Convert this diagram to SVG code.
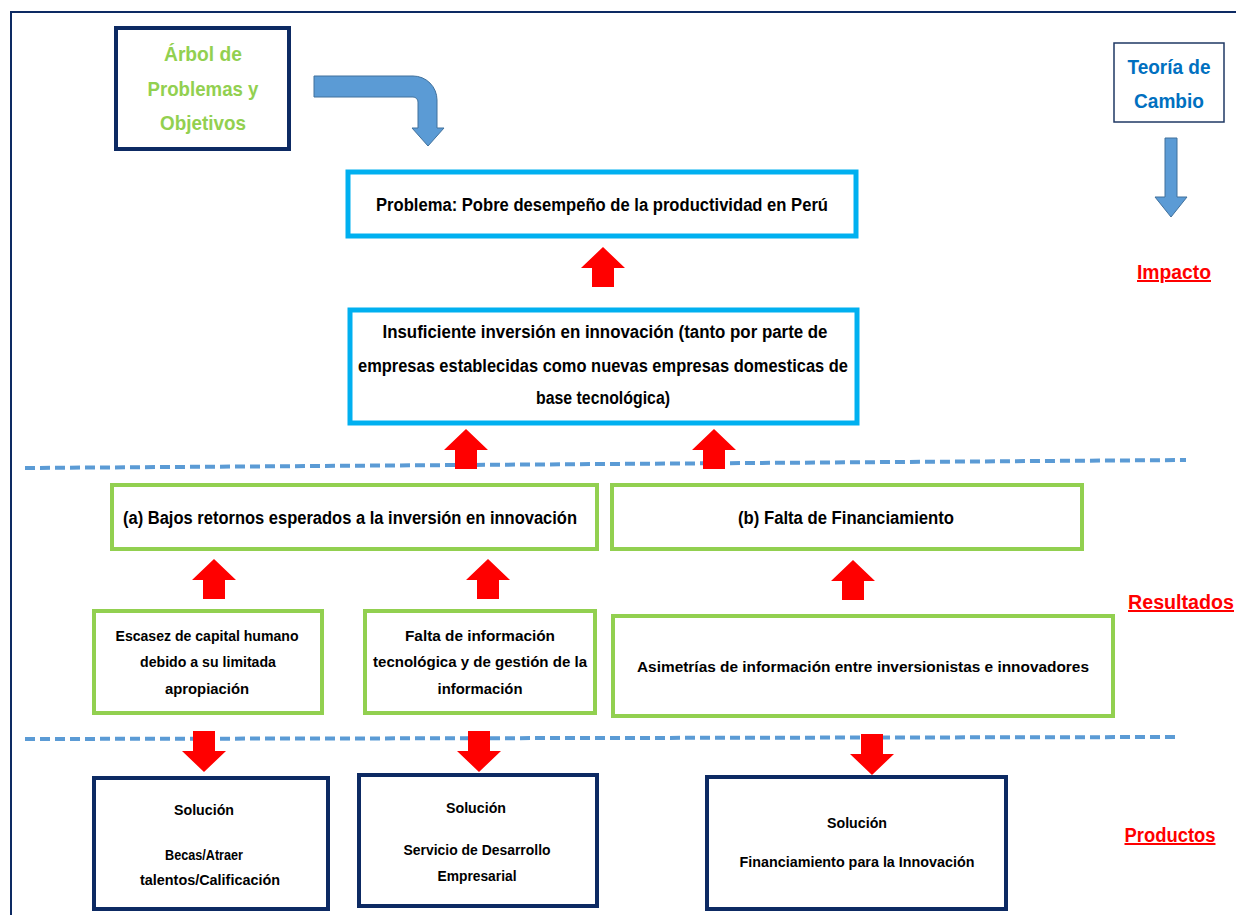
<svg xmlns="http://www.w3.org/2000/svg" xmlns:xlink="http://www.w3.org/1999/xlink" width="1236" height="915" viewBox="0 0 1236 915">
<style>
.t{font-family:"Liberation Sans",Arial,sans-serif;fill:#000;text-anchor:middle}
.b{font-weight:bold}
.nav{fill:#fff;stroke:#0d2a63;stroke-width:4}
.cy{fill:#fff;stroke:#00b0f0;stroke-width:5}
.gr{fill:#fff;stroke:#92d050;stroke-width:4}
.dash{stroke:#5b9bd5;stroke-width:4;stroke-dasharray:10 5;fill:none}
.lbl{font-family:"Liberation Sans",Arial,sans-serif;fill:#ff0000;font-weight:bold;font-size:20px;text-anchor:middle;text-decoration:underline}
.red{fill:#ff0000}
.blue{fill:#5b9bd5;stroke:#41719c;stroke-width:1}
</style>
<defs>
<path id="up" d="M0,-20 L22,1 H11 V20 H-11 V1 H-22 Z"/>
<path id="down" d="M0,21 L22,0 H11 V-20 H-11 V0 H-22 Z"/>
</defs>
<rect x="0" y="0" width="1236" height="915" fill="#fff"/>
<rect x="11" y="12" width="1240" height="920" fill="none" stroke="#0d2a63" stroke-width="2"/>

<g id="arbol">
<rect class="nav" x="116" y="28" width="173" height="121"/>
<g class="t b" style="fill:#92d050;font-size:21px">
<text x="203" y="61" textLength="78" lengthAdjust="spacingAndGlyphs">Árbol de</text>
<text x="203" y="96" textLength="111" lengthAdjust="spacingAndGlyphs">Problemas y</text>
<text x="203" y="130" textLength="86" lengthAdjust="spacingAndGlyphs">Objetivos</text>
</g>
</g>

<g id="teoria">
<rect x="1114" y="43" width="110" height="79" fill="#fff" stroke="#1f3864" stroke-width="1.5"/>
<g class="t b" style="fill:#0070c0;font-size:20px">
<text x="1169" y="74" textLength="83" lengthAdjust="spacingAndGlyphs">Teoría de</text>
<text x="1169" y="108" textLength="70" lengthAdjust="spacingAndGlyphs">Cambio</text>
</g>
</g>

<g id="blue-arrows">
<path class="blue" d="M314,76 H413 A24,24 0 0 1 437,100 V128 H444 L428,146 L412,128 H418 V102 A5,5 0 0 0 413,97 H314 Z"/>
<path class="blue" d="M1165,138 H1177 V197 H1187 L1171,217 L1155,197 H1165 Z"/>
</g>

<g id="problema">
<rect class="cy" x="348" y="172" width="508" height="64"/>
<text class="t b" x="602" y="211" font-size="17.5" textLength="452" lengthAdjust="spacingAndGlyphs">Problema: Pobre desempeño de la productividad en Perú</text>
</g>

<g id="insuficiente">
<rect class="cy" x="350" y="310" width="507" height="113"/>
<g class="t b" font-size="17.5">
<text x="605" y="338" textLength="445" lengthAdjust="spacingAndGlyphs">Insuficiente inversión en innovación (tanto por parte de</text>
<text x="603" y="372" textLength="490" lengthAdjust="spacingAndGlyphs">empresas establecidas como nuevas empresas domesticas de</text>
<text x="603" y="404" textLength="134" lengthAdjust="spacingAndGlyphs">base tecnológica)</text>
</g>
</g>

<g id="labels">
<text class="lbl" x="1174" y="279" textLength="74" lengthAdjust="spacingAndGlyphs">Impacto</text>
<text class="lbl" x="1181" y="609" textLength="106" lengthAdjust="spacingAndGlyphs">Resultados</text>
<text class="lbl" x="1170" y="842" textLength="91" lengthAdjust="spacingAndGlyphs">Productos</text>
</g>

<g id="separators">
<line class="dash" x1="25" y1="468" x2="1186" y2="460"/>
<line class="dash" x1="25" y1="739" x2="1178" y2="737"/>
</g>

<g id="retornos">
<rect class="gr" x="112" y="485" width="485" height="64"/>
<text class="t b" x="350" y="524" font-size="17.5" textLength="454" lengthAdjust="spacingAndGlyphs">(a) Bajos retornos esperados a la inversión en innovación</text>
</g>

<g id="financiamiento">
<rect class="gr" x="612" y="485" width="470" height="64"/>
<text class="t b" x="846" y="524" font-size="17.5" textLength="216" lengthAdjust="spacingAndGlyphs">(b) Falta de Financiamiento</text>
</g>

<g id="escasez">
<rect class="gr" x="94" y="611" width="228" height="102" stroke-width="3"/>
<g class="t b" font-size="15">
<text x="207" y="641" textLength="183" lengthAdjust="spacingAndGlyphs">Escasez de capital humano</text>
<text x="208" y="667" textLength="136" lengthAdjust="spacingAndGlyphs">debido a su limitada</text>
<text x="207" y="694" textLength="84" lengthAdjust="spacingAndGlyphs">apropiación</text>
</g>
</g>

<g id="falta-info">
<rect class="gr" x="365" y="611" width="230" height="102" stroke-width="3"/>
<g class="t b" font-size="15">
<text x="480" y="641" textLength="150" lengthAdjust="spacingAndGlyphs">Falta de información</text>
<text x="480" y="667" textLength="214" lengthAdjust="spacingAndGlyphs">tecnológica y de gestión de la</text>
<text x="480" y="694" textLength="85" lengthAdjust="spacingAndGlyphs">información</text>
</g>
</g>

<g id="asimetrias">
<rect class="gr" x="613" y="616" width="500" height="100" stroke-width="3"/>
<text class="t b" x="863" y="672" font-size="15.5" textLength="452" lengthAdjust="spacingAndGlyphs">Asimetrías de información entre inversionistas e innovadores</text>
</g>

<g id="sol-becas">
<rect class="nav" x="94" y="778" width="234" height="131"/>
<g class="t b" font-size="14.5">
<text x="204" y="815" textLength="60" lengthAdjust="spacingAndGlyphs">Solución</text>
<text x="204" y="860" textLength="78" lengthAdjust="spacingAndGlyphs">Becas/Atraer</text>
<text x="210" y="885" textLength="140" lengthAdjust="spacingAndGlyphs">talentos/Calificación</text>
</g>
</g>

<g id="sol-servicio">
<rect class="nav" x="359" y="775" width="238" height="131"/>
<g class="t b" font-size="14.5">
<text x="476" y="813" textLength="60" lengthAdjust="spacingAndGlyphs">Solución</text>
<text x="477" y="855" textLength="147" lengthAdjust="spacingAndGlyphs">Servicio de Desarrollo</text>
<text x="477" y="881" textLength="79" lengthAdjust="spacingAndGlyphs">Empresarial</text>
</g>
</g>

<g id="sol-financ">
<rect class="nav" x="707" y="777" width="299" height="132"/>
<g class="t b" font-size="14.5">
<text x="857" y="828" textLength="60" lengthAdjust="spacingAndGlyphs">Solución</text>
<text x="857" y="867" textLength="235" lengthAdjust="spacingAndGlyphs">Financiamiento para la Innovación</text>
</g>
</g>

<g id="connectors" class="red">
<use xlink:href="#up" x="603" y="267"/>
<use xlink:href="#up" x="466" y="449"/>
<use xlink:href="#up" x="714" y="449"/>
<use xlink:href="#up" x="214" y="579"/>
<use xlink:href="#up" x="488" y="579"/>
<use xlink:href="#up" x="853" y="580"/>
<use xlink:href="#down" x="204" y="751"/>
<use xlink:href="#down" x="479" y="751"/>
<use xlink:href="#down" x="872" y="754"/>
</g>
</svg>
